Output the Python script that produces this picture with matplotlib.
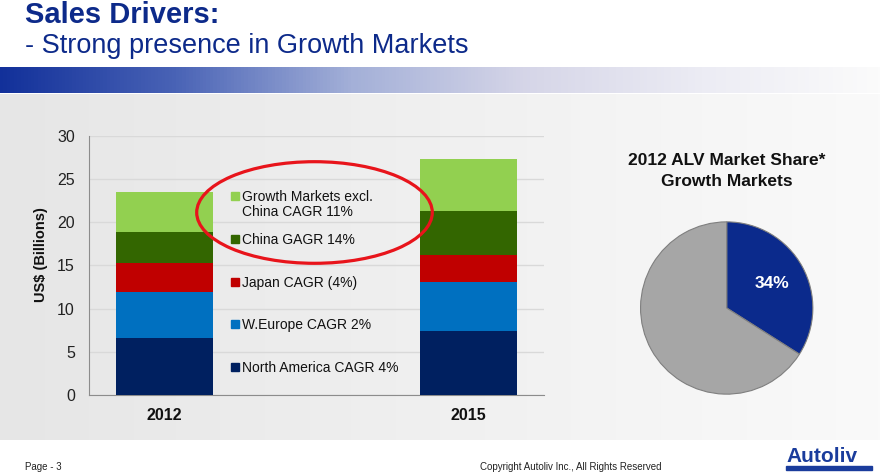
import numpy as np
import matplotlib
matplotlib.use("Agg")
import matplotlib.pyplot as plt
from matplotlib.colors import LinearSegmentedColormap
from matplotlib.patches import Ellipse, Rectangle
from matplotlib.transforms import offset_copy

plt.rcParams['font.family'] = ['Liberation Sans', 'DejaVu Sans']

# data (US$ billions)
years = ['2012', '2015']
north_america = [6.55, 7.45]
w_europe = [5.35, 5.6]
japan = [3.4, 3.1]
china = [3.55, 5.1]
growth_ex_china = [4.6, 6.1]

series = [north_america, w_europe, japan, china, growth_ex_china]
series_names = ['North America CAGR 4%', 'W.Europe CAGR 2%', 'Japan CAGR (4%)',
                'China GAGR 14%', 'Growth Markets excl.\nChina CAGR 11%']
series_colors = ['#002060', '#0070c0', '#c00000', '#336600', '#92d050']

share_labels = ['Autoliv', 'Others']
share_values = [34, 66]
share_colors = ['#0b2a8c', '#a6a6a6']

W, H = 880, 476
fig = plt.figure(figsize=(W / 100, H / 100), dpi=100)

# slide background: blue header band + light grey panel
band = fig.add_axes([0, 1 - 92.7 / H, 1, 26 / H], zorder=-5)
band_cmap = LinearSegmentedColormap.from_list(
    'band', ['#12309a', '#4a64b6', '#a4b0d8', '#d6d6e8', '#ececf4', '#fbfbfb'])
band.imshow(np.linspace(0, 1, 256)[None, :], aspect='auto', cmap=band_cmap)
band.axis('off')

panel = fig.add_axes([0, 1 - 440 / H, 1, (440 - 93.5) / H], zorder=-5)
panel_cmap = LinearSegmentedColormap.from_list('panel', ['#e6e6e6', '#f0f0f0', '#fafafa'])
panel.imshow(np.linspace(0, 1, 256)[None, :], aspect='auto', cmap=panel_cmap)
panel.axis('off')

# stacked bars
ax = fig.add_axes([88.7 / W, 1 - 395 / H, (544.3 - 88.7) / W, (395 - 135.7) / H])
ax.set_facecolor('none')
x = np.arange(len(years))
bottom = np.zeros(len(years))
for vals, c in zip(series, series_colors):
    ax.bar(x, vals, 0.32, bottom=bottom, color=c, zorder=3)
    bottom += np.array(vals)

ax.set_xlim(-0.25, 1.25)
ax.set_ylim(0, 30)
ax.set_yticks(range(0, 31, 5))
ax.set_xticks(x)
ax.set_xticklabels(years, fontweight='bold')
ax.tick_params(axis='y', length=0, pad=10, labelsize=11.5, labelcolor='#222222')
ax.tick_params(axis='x', length=0, pad=9, labelsize=11.5, labelcolor='#111111')
ax.grid(axis='y', color='#d9d9d9', linewidth=1)
ax.set_axisbelow(True)
for s in ['top', 'right']:
    ax.spines[s].set_visible(False)
for s in ['left', 'bottom']:
    ax.spines[s].set_color('#8c8c8c')
fig.text(41 / W, 1 - 255 / H, 'US$ (Billions)', rotation=90, fontsize=10.5,
         fontweight='bold', ha='center', va='center', color='#111111')

# legend placed between the bars, top entry first
leg_top = 23.0
leg_step = 4.94
lift = offset_copy(ax.transData, fig=fig, y=6.0, units='dots')
for i, (name, c) in enumerate(zip(series_names[::-1], series_colors[::-1])):
    ly = leg_top - i * leg_step
    ax.plot([0.233], [ly], marker='s', markersize=5.3, color=c, linestyle='none',
            clip_on=False, zorder=4)
    ax.text(0.256, ly, name, fontsize=10, va='top', ha='left', color='#111111',
            linespacing=1.1, transform=lift, zorder=4)

# red highlight ellipse
fig.add_artist(Ellipse((314.5 / W, 1 - 212.5 / H), 235.6 / W, 101.6 / H,
                       transform=fig.transFigure, fill=False,
                       edgecolor='#e8141b', linewidth=2.3))

# market share pie
ax2 = fig.add_axes([(726.7 - 87) / W, (H - 308 - 87) / H, 174 / W, 174 / H])
ax2.pie(share_values, colors=share_colors, startangle=90, counterclock=False,
        wedgeprops=dict(edgecolor='#7f7f7f', linewidth=0.8),
        autopct=lambda p: f'{p:.0f}%' if p < 50 else '', pctdistance=0.6,
        textprops=dict(color='white', fontsize=12.5, fontweight='bold'))
ax2.set_xlim(-1.01, 1.01)
ax2.set_ylim(-1.01, 1.01)
fig.text(726.7 / W, 1 - 171 / H, '2012 ALV Market Share*\nGrowth Markets',
         ha='center', va='center', fontsize=12.5, fontweight='bold',
         linespacing=1.45, color='#111111')

# slide title
fig.text(25 / W, 1 - 23.3 / H, 'Sales Drivers:', fontsize=21, fontweight='bold',
         color='#0d2a8a', va='baseline')
fig.text(25 / W, 1 - 53.3 / H, '- Strong presence in Growth Markets', fontsize=19.5,
         color='#0d2a8a', va='baseline')

# footer
fig.text(25 / W, 1 - 467 / H, 'Page - 3', fontsize=7, va='center', color='#222222')
fig.text(480 / W, 1 - 467 / H, 'Copyright Autoliv Inc., All Rights Reserved',
         fontsize=7, va='center', color='#222222')
fig.text(786 / W, 1 - 462 / H, 'Autoliv', fontsize=15, fontweight='bold',
         color='#1a3c9c', va='baseline')
fig.add_artist(Rectangle((786 / W, 1 - 470 / H), 86 / W, 4 / H,
                         transform=fig.transFigure, color='#1a3c9c'))

fig.savefig('out.png', dpi=100)
